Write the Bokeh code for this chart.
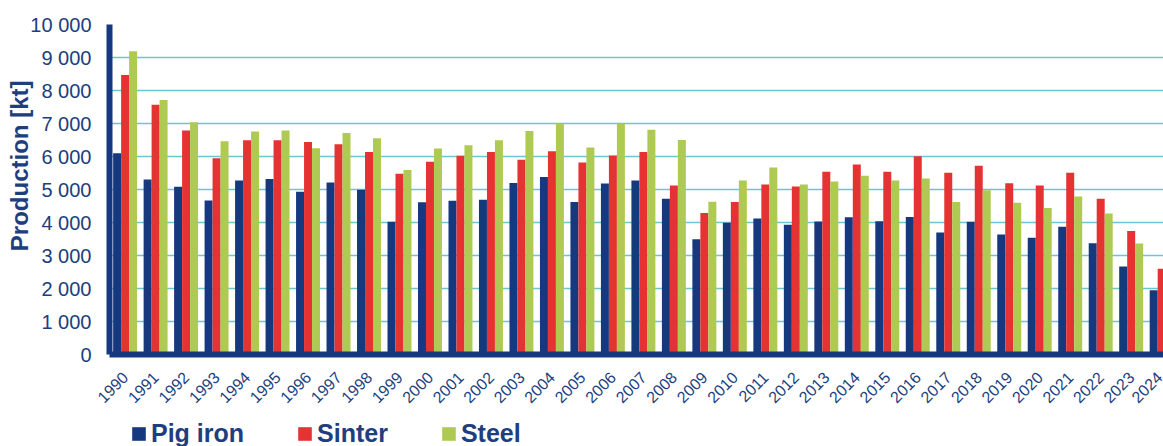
import math
from bokeh.plotting import figure
from bokeh.layouts import column
from bokeh.models import (ColumnDataSource, Range1d, FixedTicker, Legend,
                          LegendItem, Title)
from bokeh.transform import dodge
from bokeh.embed import file_html
from bokeh.resources import INLINE

# ---------------- data ----------------
years = list(range(1990, 2025))
pig_iron = [6100, 5300, 5080, 4670, 5270, 5320, 4930, 5210, 4990, 4020,
            4610, 4660, 4690, 5200, 5380, 4620, 5180, 5270, 4720, 3490,
            3990, 4120, 3930, 4030, 4160, 4040, 4170, 3700, 4020, 3640,
            3540, 3870, 3370, 2670, 1950]
sinter = [8470, 7570, 6790, 5950, 6490, 6490, 6440, 6370, 6140, 5480,
          5840, 6020, 6140, 5900, 6160, 5820, 6030, 6140, 5120, 4290,
          4620, 5150, 5090, 5540, 5760, 5540, 6010, 5510, 5720, 5190,
          5120, 5510, 4720, 3740, 2600]
# 2024 steel bar is cut off by the right edge of the reference: not readable
steel = [9190, 7710, 7040, 6460, 6760, 6790, 6250, 6710, 6550, 5590,
         6240, 6340, 6490, 6770, 6990, 6270, 6990, 6810, 6500, 4630,
         5270, 5670, 5150, 5240, 5420, 5270, 5330, 4620, 4980, 4600,
         4440, 4790, 4270, 3360, float("nan")]
series_names = ["Pig iron", "Sinter", "Steel"]
y_ticks = [0, 1000, 2000, 3000, 4000, 5000, 6000, 7000, 8000, 9000, 10000]
y_tick_labels = ["0", "1 000", "2 000", "3 000", "4 000", "5 000",
                 "6 000", "7 000", "8 000", "9 000", "10 000"]
x_tick_labels = [str(y) for y in years]
y_title = "Production [kt]"

# ---------------- style ----------------
NAVY = "#16387F"
TEXT = "#203E7D"
RED = "#E53333"
GREEN = "#AFCA52"
GRID = "#6CC5D3"
FONT = "Liberation Sans"
BAR_W = 0.262
colors = [NAVY, RED, GREEN]
columns = ["pig", "sinter", "steel"]
offsets = [-BAR_W, 0.0, BAR_W]

src = ColumnDataSource(dict(year=years, pig=pig_iron, sinter=sinter, steel=steel))

p = figure(width=1163, height=418,
           x_range=Range1d(1989.488, 2024.06), y_range=Range1d(0, 10000),
           output_backend="svg", toolbar_location=None,
           min_border_left=109, min_border_right=0,
           min_border_top=24, min_border_bottom=64)
p.outline_line_color = None
p.background_fill_color = "white"
p.border_fill_color = "white"

for col, off, c in zip(columns, offsets, colors):
    p.vbar(x=dodge("year", off, range=p.x_range), top=col, width=BAR_W,
           source=src, fill_color=c, line_color=None)

# x axis
xa = p.xaxis[0]
xa.ticker = FixedTicker(ticks=years)
xa.major_label_overrides = {y: s for y, s in zip(years, x_tick_labels)}
xa.major_label_orientation = math.pi / 4
xa.major_label_text_font = FONT
xa.major_label_text_font_size = "16px"
xa.major_label_text_color = TEXT
xa.major_label_standoff = 20
xa.axis_line_color = NAVY
xa.axis_line_width = 6
xa.major_tick_in = 0
xa.major_tick_out = 0
xa.minor_tick_in = 0
xa.minor_tick_out = 0

# y axis
ya = p.yaxis[0]
ya.ticker = FixedTicker(ticks=y_ticks)
ya.major_label_overrides = {t: s for t, s in zip(y_ticks, y_tick_labels)}
ya.major_label_text_font = FONT
ya.major_label_text_font_size = "20px"
ya.major_label_text_color = TEXT
ya.major_label_standoff = 18
ya.axis_line_color = NAVY
ya.axis_line_width = 6
ya.major_tick_in = 0
ya.major_tick_out = 0
ya.minor_tick_in = 0
ya.minor_tick_out = 0

p.xgrid.visible = False
p.ygrid.ticker = FixedTicker(ticks=y_ticks)
p.ygrid.grid_line_color = GRID
p.ygrid.grid_line_width = 1.5

# y title (vertical, left of the tick labels)
p.add_layout(Title(text=y_title, align="right", offset=56, standoff=-10,
                   vertical_align="bottom",
                   text_font=FONT, text_font_style="bold",
                   text_font_size="24px", text_color=TEXT), "left")

# ---------------- legend strip below the chart ----------------
# (its frame is aligned with the chart's frame by the column layout; the key
#  renderers share the data but lie outside this strip's ranges)
lg = figure(width=1163, height=28, x_range=Range1d(0, 1), y_range=Range1d(0, 1),
            output_backend="svg", toolbar_location=None,
            x_axis_type=None, y_axis_type=None,
            min_border_left=0, min_border_right=0,
            min_border_top=0, min_border_bottom=0)
lg.outline_line_color = None
lg.xgrid.visible = False
lg.ygrid.visible = False
keys = [lg.vbar(x="year", top=col, width=BAR_W, source=src,
                fill_color=c, line_color=None)
        for col, c in zip(columns, colors)]
legend = Legend(items=[LegendItem(label=n, renderers=[r])
                       for n, r in zip(series_names, keys)],
                orientation="horizontal", location=(21, -2),
                glyph_width=17, glyph_height=17, label_standoff=4, spacing=52,
                padding=0, margin=0, border_line_color=None,
                background_fill_alpha=0,
                label_text_font=FONT, label_text_font_style="bold",
                label_text_font_size="25px", label_text_color=TEXT)
lg.add_layout(legend)

page = column(p, lg, spacing=0)
open("out.html", "w").write(file_html(page, INLINE))
